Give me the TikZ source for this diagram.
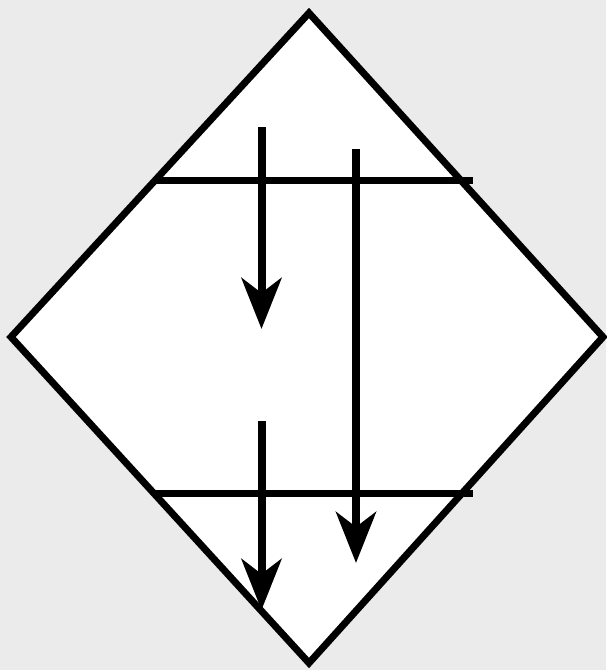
\documentclass[tikz,border=0pt]{standalone}
\usetikzlibrary{arrows.meta}
\definecolor{bggray}{RGB}{235,235,235}
\begin{document}
\begin{tikzpicture}[x=1pt,y=-1pt,
  frame/.style={line width=7pt,line join=miter},
  bar/.style={line width=7pt},
  flow/.style={line width=8pt,-{Stealth[length=51pt,width=40pt,inset=15pt]}}]
\fill[bggray] (0,0) rectangle (606,670);
\useasboundingbox (0,0) rectangle (606,670);
\coordinate (T) at (309,13);
\coordinate (L) at (11,337);
\coordinate (R) at (603,337);
\coordinate (B) at (309,663);
\filldraw[frame,fill=white] (T) -- (R) -- (B) -- (L) -- cycle;
\coordinate (h1a) at (153,180);
\coordinate (h1b) at (473,180);
\coordinate (h2a) at (153,493);
\coordinate (h2b) at (473,493);
\draw[bar] (h1a) -- (h1b);
\draw[bar] (h2a) -- (h2b);
\coordinate (a1s) at (261.5,127);
\coordinate (a1e) at (261.5,329);
\coordinate (a2s) at (356,149);
\coordinate (a2e) at (356,563);
\coordinate (a3s) at (261.5,421);
\coordinate (a3e) at (261.5,610);
\draw[flow] (a1s) -- (a1e);
\draw[flow] (a2s) -- (a2e);
\draw[flow] (a3s) -- (a3e);
\end{tikzpicture}
\end{document}
